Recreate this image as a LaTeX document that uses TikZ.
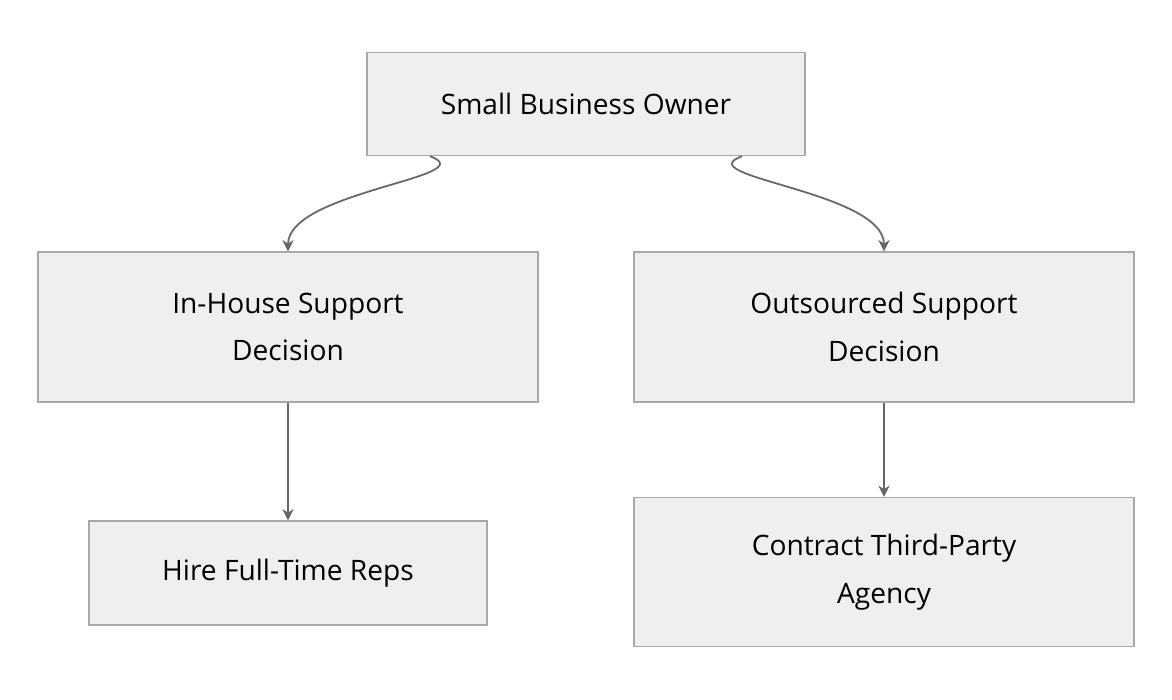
\documentclass[tikz,border=0pt]{standalone}
\usepackage{fontspec}
\setmainfont{Open Sans}
\usetikzlibrary{arrows.meta}
\definecolor{boxfill}{HTML}{EFEFEF}
\definecolor{boxline}{HTML}{A8A8A8}
\definecolor{arrowc}{HTML}{666666}
\tikzset{
  box/.style={draw=boxline, fill=boxfill, line width=0.4pt, align=center,
    font=\fontsize{8}{13.5}\selectfont, inner sep=0pt},
  link/.style={draw=arrowc, line width=0.5pt, -{Stealth[length=3.2pt,width=3.2pt]}}
}
\begin{document}
\begin{tikzpicture}[x=0.01cm, y=-0.01cm]
  \useasboundingbox (0,0) rectangle (1172,700);

  \node[box, minimum width=438*0.01cm, minimum height=103*0.01cm] (owner) at (586,104) {Small Business Owner};
  \node[box, minimum width=500*0.01cm, minimum height=150*0.01cm] (inhouse) at (288,327) {In-House Support\\Decision};
  \node[box, minimum width=500*0.01cm, minimum height=150*0.01cm] (outsrc) at (884,327) {Outsourced Support\\Decision};
  \node[box, minimum width=398*0.01cm, minimum height=104*0.01cm] (hire) at (288,573) {Hire Full-Time Reps};
  \node[box, minimum width=500*0.01cm, minimum height=149*0.01cm] (agency) at (884,572) {Contract Third-Party\\Agency};

  \draw[link] ([xshift=-1.56cm]owner.south) to[out=-20, in=90, looseness=0.9] (inhouse.north);
  \draw[link] ([xshift=1.56cm]owner.south) to[out=-160, in=90, looseness=0.9] (outsrc.north);
  \draw[link] (inhouse) -- (hire);
  \draw[link] (outsrc) -- (agency);
\end{tikzpicture}
\end{document}
